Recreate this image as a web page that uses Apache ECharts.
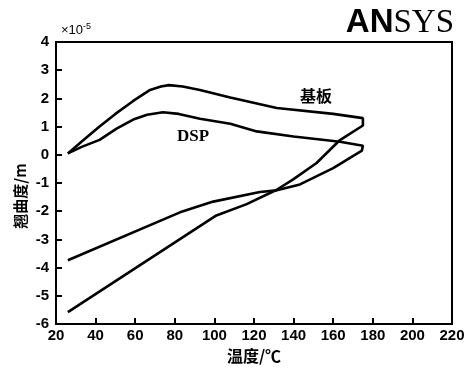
<!DOCTYPE html>
<html>
<head>
<meta charset="utf-8">
<script src="https://cdn.jsdelivr.net/npm/echarts@6/dist/echarts.min.js"></script>
<style>html,body{margin:0;padding:0;background:#fff}#c{width:476px;height:369px}</style>
</head>
<body>
<div id="c"></div>
<script>
// 基板 (substrate) curve, temperature (°C) and warpage (×10^-5 m)
const substrateX = [26, 33, 42, 50, 59, 67.5, 73, 77, 84, 92.7, 108, 131.5, 160, 175, 175, 163, 151.6, 139.8, 131.5, 116.3, 101, 26];
const substrateY = [0.05, 0.47, 1.0, 1.45, 1.91, 2.30, 2.42, 2.47, 2.42, 2.30, 2.03, 1.66, 1.45, 1.30, 1.04, 0.5, -0.29, -0.87, -1.24, -1.75, -2.15, -5.58];
// DSP curve
const dspX = [26, 33, 42, 50.6, 59, 66, 74, 82, 92.7, 108, 121.4, 140, 163.4, 175, 174.5, 160, 143.2, 131.5, 123, 99.4, 82.6, 26];
const dspY = [0.05, 0.28, 0.53, 0.93, 1.25, 1.42, 1.51, 1.45, 1.28, 1.10, 0.83, 0.65, 0.46, 0.32, 0.15, -0.47, -1.05, -1.26, -1.32, -1.66, -2.04, -3.74];
// axis ticks
const xTicks = [20, 40, 60, 80, 100, 120, 140, 160, 180, 200, 220];
const yTicks = [-6, -5, -4, -3, -2, -1, 0, 1, 2, 3, 4];

const zip = (xs, ys) => xs.map((x, i) => [x, ys[i]]);
const chart = echarts.init(document.getElementById('c'), null, {renderer: 'canvas'});
const labelStyle = {color: '#000', fontSize: 15, fontWeight: 'bold', fontFamily: 'Liberation Sans, Arial, sans-serif'};
chart.setOption({
  animation: false,
  backgroundColor: '#fff',
  grid: {left: 56, right: 24, top: 42, bottom: 40, show: true, borderColor: '#000', borderWidth: 2, containLabel: false},
  xAxis: {
    type: 'value', min: xTicks[0], max: xTicks[xTicks.length - 1], interval: 20,
    name: '温度/℃', nameLocation: 'middle', nameGap: 24,
    nameTextStyle: {color: '#000', fontSize: 16, fontWeight: 'bold', fontFamily: 'Noto Sans CJK SC'},
    axisLine: {show: true, onZero: false, lineStyle: {color: '#000', width: 2}},
    axisTick: {show: true, inside: true, length: 6, lineStyle: {color: '#000', width: 2}},
    axisLabel: Object.assign({margin: 4}, labelStyle),
    splitLine: {show: false}
  },
  yAxis: {
    type: 'value', min: yTicks[0], max: yTicks[yTicks.length - 1], interval: 1,
    axisLine: {show: true, onZero: false, lineStyle: {color: '#000', width: 2}},
    axisTick: {show: true, inside: true, length: 6, lineStyle: {color: '#000', width: 2}},
    axisLabel: Object.assign({margin: 7}, labelStyle),
    splitLine: {show: false}
  },
  series: [
    {name: '基板', type: 'line', data: zip(substrateX, substrateY), showSymbol: false, symbol: 'none',
     lineStyle: {color: '#000', width: 2.6}, z: 3},
    {name: 'DSP', type: 'line', data: zip(dspX, dspY), showSymbol: false, symbol: 'none',
     lineStyle: {color: '#000', width: 2.6}, z: 3}
  ],
  graphic: [
    {type: 'text', left: 61, top: 22, style: {
      text: '{a|×10}{b|-5}', rich: {
        a: {fontSize: 13, fontFamily: 'Liberation Sans', fill: '#000'},
        b: {fontSize: 9, fontFamily: 'Liberation Sans', fill: '#000', verticalAlign: 'top', padding: [0, 0, 7, 0]}
      }}},
    {type: 'text', x: 20, y: 196, rotation: Math.PI / 2, style: {
      text: '翘曲度/m', fill: '#000', fontSize: 15, fontWeight: 'bold', fontFamily: 'Noto Sans CJK SC',
      align: 'center', verticalAlign: 'middle'}},
    {type: 'text', x: 316, y: 96, style: {
      text: '基板', fill: '#000', fontSize: 16, fontWeight: 'bold', fontFamily: 'Noto Sans CJK SC',
      align: 'center', verticalAlign: 'middle'}},
    {type: 'text', x: 193, y: 137, style: {
      text: 'DSP', fill: '#000', fontSize: 17, fontWeight: 'bold', fontFamily: 'Liberation Serif',
      align: 'center', verticalAlign: 'middle'}},
    {type: 'text', x: 454, y: 23, style: {
      text: '{a|AN}{b|SYS}', align: 'right', verticalAlign: 'middle', rich: {
        a: {fontSize: 33, fontWeight: 900, fontFamily: 'Liberation Sans', fill: '#000'},
        b: {fontSize: 33, fontFamily: 'Liberation Serif', fill: '#000'}
      }}}
  ]
});
</script>
</body>
</html>
